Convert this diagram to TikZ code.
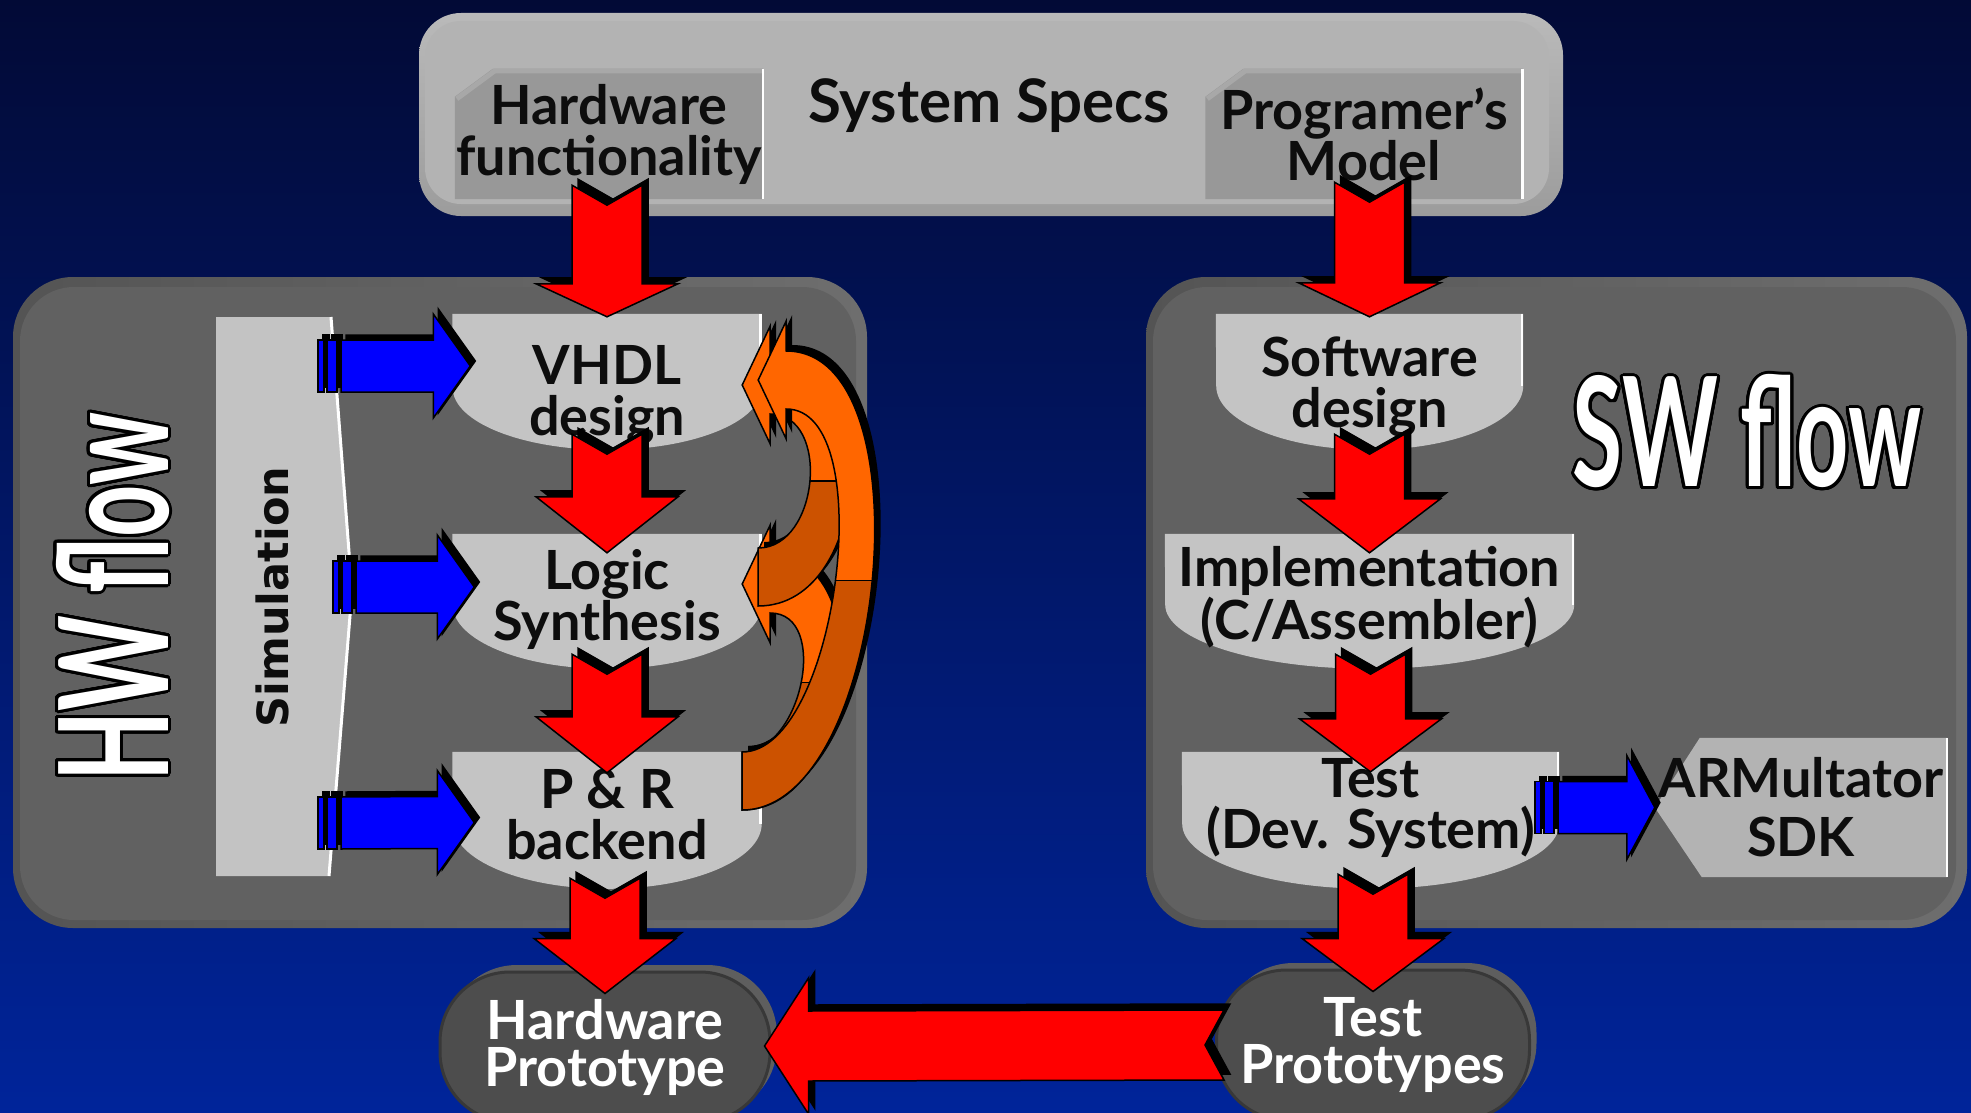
\documentclass[tikz,border=0pt]{standalone}
\usepackage{fontspec}
\setmainfont{Lato}
\newfontfamily\simfont{DejaVu Sans}
\usepackage[copies]{contour}
\contourlength{3pt}
\contournumber{32}
\usetikzlibrary{calc}

\definecolor{navytop}{HTML}{020A36}
\definecolor{navybottom}{HTML}{00249A}
\definecolor{specgray}{HTML}{B3B3B3}
\definecolor{specrim}{HTML}{9C9C9C}
\definecolor{tabgray}{HTML}{989898}
\definecolor{tabtop}{HTML}{A8A8A8}
\definecolor{panelgray}{HTML}{616161}
\definecolor{panelrim}{HTML}{545454}
\definecolor{panelside}{HTML}{6E6E6E}
\definecolor{simgray}{HTML}{C3C3C3}
\definecolor{stagegray}{HTML}{C4C4C4}
\definecolor{armgray}{HTML}{B3B3B3}
\definecolor{pillgray}{HTML}{4D4D4D}
\definecolor{pilledge}{HTML}{383838}
\definecolor{pillrim}{HTML}{5E5E5E}
\definecolor{inkblack}{HTML}{0D0D0D}
\definecolor{flowred}{HTML}{FF0000}
\definecolor{flowblue}{HTML}{0000FF}
\definecolor{loopor}{HTML}{FF6600}
\definecolor{loopdark}{HTML}{CC5200}

\pgfdeclarelayer{backdrop}
\pgfsetlayers{backdrop,main}

\tikzset{
  every node/.style={inner sep=0pt, align=center, text=inkblack,
    font=\bfseries\fontsize{54}{51}\selectfont},
  tab/.style={minimum height=130pt},
  stage/.style={},
  armbox/.style={minimum width=292pt, minimum height=139pt,
    font=\bfseries\fontsize{54}{59}\selectfont},
  pill/.style={rounded corners=70pt, minimum width=330pt, minimum height=150pt,
    fill=pillgray, draw=pilledge, line width=3pt, text=white,
    font=\bfseries\fontsize{54}{47}\selectfont,
    preaction={fill=pillrim, transform canvas={xshift=7pt,yshift=7pt}}},
  flowtitle/.style={text=white, font=\bfseries\fontsize{152}{152}\selectfont},
  simtext/.style={font=\simfont\bfseries\fontsize{43}{43}\selectfont, rotate=90},
  blockline/.style={draw=black, line width=1.5pt, line join=miter},
}

% box with a flat top and a round bottom: node, height, depth of the bottom, half width
\newcommand\bowl[4]{%
  \fill[stagegray] (#1.north west) -- (#1.north east) -- ++(0,#2-#3)
    arc[start angle=0,end angle=-180,x radius=#4pt,y radius=#3pt] -- cycle;
  \draw[white,line width=2.5pt] ($(#1.north east)+(-1,0)$) -- ++(0,#2-#3);
}

% grey tab with a cut corner
\newcommand\tabshape[1]{%
  \fill[tabgray] (#1.south west) -- ($(#1.north west)+(0,28)$) -- ($(#1.north west)+(38,0)$)
    -- (#1.north east) -- (#1.south east) -- cycle;
  \draw[tabtop,line width=5pt] ($(#1.north west)+(2,30)$) -- ($(#1.north west)+(40,2)$)
    -- ($(#1.north east)+(0,2)$);
  \draw[white,line width=2.5pt] (#1.north east) -- (#1.south east);
}

% fat red arrow going down: from, tail shift, to, tip shift, head length
\newcommand\redflow[5]{%
  \coordinate (rt) at ($(#3 |- #1)+(0,#2)$);
  \coordinate (rh) at ($(#3)+(0,#4)$);
  \foreach \ox/\oy/\col in {6/-6/black,0/0/flowred}{
    \filldraw[fill=\col,blockline]
      ($(rt)+(-35+\ox,\oy)$) -- ($(rt)+(\ox,20+\oy)$) -- ($(rt)+(35+\ox,\oy)$)
      -- ($(rh)+(35+\ox,-#5+\oy)$) -- ($(rh)+(71+\ox,-#5+\oy)$) -- ($(rh)+(\ox,\oy)$)
      -- ($(rh)+(-71+\ox,-#5+\oy)$) -- ($(rh)+(-35+\ox,-#5+\oy)$) -- cycle;
  }}

% striped blue arrow going right: tail, tip, head length
\newcommand\blueflow[3]{%
  \coordinate (bt) at #1;
  \coordinate (bh) at #2;
  \foreach \ox/\oy/\col in {5/-5/black,0/0/flowblue}{
    \filldraw[fill=\col,blockline] ($(bt)+(\ox,-26+\oy)$) rectangle ($(bt)+(6+\ox,26+\oy)$);
    \filldraw[fill=\col,blockline] ($(bt)+(9+\ox,-26+\oy)$) rectangle ($(bt)+(19+\ox,26+\oy)$);
    \filldraw[fill=\col,blockline] ($(bt)+(23+\ox,-26+\oy)$) -- ($(bh)+(-#3+\ox,-26+\oy)$)
      -- ($(bh)+(-#3+\ox,-52+\oy)$) -- ($(bh)+(\ox,\oy)$) -- ($(bh)+(-#3+\ox,52+\oy)$)
      -- ($(bh)+(-#3+\ox,26+\oy)$) -- ($(bt)+(23+\ox,26+\oy)$) -- cycle;
  }}

% outline of a bent feedback band: tail, tip, inner bulge, outer bulge
\newcommand\loopband[4]{($(#1)+(0,-29)$) .. controls ($(#1)+(#3,-29)$) and ($(#2)+(28+#3,29)$)
  .. ($(#2)+(28,29)$) -- ($(#2)+(28,59)$) -- (#2) -- ($(#2)+(28,-59)$) -- ($(#2)+(28,-29)$)
  .. controls ($(#2)+(28+#4,-29)$) and ($(#1)+(#4,29)$) .. ($(#1)+(0,29)$) -- cycle}

\newcommand\loopflow[4]{%
  \coordinate (ls) at #1;
  \coordinate (lt) at #2;
  \coordinate (lss) at ($(ls)+(6,-6)$);
  \coordinate (lts) at ($(lt)+(6,-6)$);
  \fill[black] \loopband{lss}{lts}{#3}{#4};
  \fill[loopor] \loopband{ls}{lt}{#3}{#4};
  \begin{scope}
    \clip \loopband{ls}{lt}{#3}{#4};
    \fill[loopdark] ($(ls)!0.5!(lt)+(-60,0)$) rectangle ($(ls)+(250,120)$);
    \draw[line width=1.5pt] ($(ls)!0.5!(lt)+(-60,0)$) -- ++(400,0);
  \end{scope}
  \draw[blockline] \loopband{ls}{lt}{#3}{#4};
}

\begin{document}
\begin{tikzpicture}[x=1pt,y=-1pt]
\useasboundingbox (0,0) rectangle (1971,1113);

\begin{pgfonlayer}{backdrop}
% backdrop
\shade[top color=navytop,bottom color=navybottom] (0,0) rectangle (1971,1113);
% specs bar
\shade[top color=specrim!70!white,bottom color=specrim,rounded corners=42pt] (419,13) rectangle (1563,216);
\fill[specgray,rounded corners=36pt] (425,21) rectangle (1549,204);
% flow panels
\foreach \xa/\xb in {13/867,1146/1967}{
  \shade[left color=panelrim,right color=panelside,rounded corners=60pt] (\xa,277) rectangle (\xb,928);
  \fill[panelgray,rounded corners=54pt] (\xa+7,287) rectangle (\xb-11,920);
}
% simulation column
\fill[simgray] (216,317) -- (331,317) -- (352,591) -- (329,876) -- (216,876) -- cycle;
\draw[white,line width=3pt] (331,317) -- (352,591) -- (329,876);
\end{pgfonlayer}

% specs
\node (specs) at (989,106) {\fontsize{60}{60}\selectfont System Specs};
\node[tab,minimum width=308pt] (hwfunc) at (609,134) {Hardware\\functionality};
\node[tab,minimum width=317pt] (progmodel) at (1364,134) {Programer’s\\Model};

% HW flow
\node[flowtitle,rotate=90] (hwtitle) at (114,597) {\contour{black}{\scalebox{0.6}[1]{HW flow}}};
\node[simtext] (sim) at (272,597) {Simulation};
\node[stage,minimum width=309pt,minimum height=162pt] (vhdl) at (607,395) {VHDL\\design};
\node[stage,minimum width=309pt,minimum height=130pt] (logic) at (607,599) {Logic\\Synthesis};
\node[stage,minimum width=309pt,minimum height=125pt] (pr) at (607,814.5) {P \& R\\backend};

% SW flow
\node[flowtitle] (swtitle) at (1747,433) {\contour{black}{\scalebox{0.6}[1]{SW flow}}};
\node[stage,minimum width=307pt,minimum height=146pt] (swdesign) at (1369.5,387) {Software\\design};
\node[stage,minimum width=409pt,minimum height=126pt] (impl) at (1369.5,597) {Implementation\\(C/Assembler)};
\node[stage,minimum width=377pt,minimum height=111pt] (test) at (1370.5,807.5) {Test\\(Dev. System)};
\node[armbox] (arm) at (1801,807.5) {ARMultator\\SDK};

% prototypes
\node[pill] (hwproto) at (605,1047) {Hardware\\Prototype};
\node[pill,minimum width=313pt] (testproto) at (1373,1045) {Test\\Prototypes};

\begin{pgfonlayer}{backdrop}
\tabshape{hwfunc}
\tabshape{progmodel}
\bowl{vhdl}{136}{62}{154.5}
\bowl{logic}{135}{64}{154.5}
\bowl{pr}{137}{65}{154.5}
\bowl{swdesign}{136}{64}{153.5}
\bowl{impl}{135}{64}{204.5}
\bowl{test}{137}{65}{188.5}
\fill[armgray] (arm.west) -- ($(arm.north west)+(45,0)$) -- (arm.north east)
  -- (arm.south east) -- ($(arm.south west)+(47,0)$) -- cycle;
\draw[white,line width=2.5pt] (arm.north east) -- (arm.south east);
\end{pgfonlayer}

% feedback loops
\loopflow{($(pr.east)+(-19.5,-33.5)$)}{($(logic.east)+(-19.5,-15)$)}{60}{112}
\loopflow{($(logic.east)+(-3.5,-22)$)}{($(vhdl.east)+(-19.5,-10)$)}{61}{115}
\loopflow{($(pr.east)+(-19.5,-33.5)$)}{($(vhdl.east)+(-3.5,-15)$)}{95}{144}

% simulation inputs
\blueflow{(318,366)}{($(vhdl.west)+(18,-29)$)}{37}
\blueflow{(333,587)}{($(logic.west)+(22,-12)$)}{37}
\blueflow{(318,823)}{($(pr.west)+(22,8)$)}{37}
\blueflow{(1535,807.5)}{(arm.west)}{28}

% down the flows
\redflow{hwfunc.south}{-14}{vhdl.north}{3}{33}
\redflow{vhdl.south}{-42}{logic.north}{19}{56}
\redflow{logic.south}{-10}{pr.north}{21}{56}
\redflow{pr.south}{1}{hwproto.north}{23}{55}
\redflow{progmodel.south}{-17}{swdesign.north}{3}{34}
\redflow{swdesign.south}{-26}{impl.north}{19}{54}
\redflow{impl.south}{-6}{test.north}{20}{53}
\redflow{test.south}{11}{testproto.north}{23}{53}

% test prototypes back to hardware
\coordinate (lt1) at ($(testproto.west)+(9,0)$);
\coordinate (lh1) at ($(hwproto.east |- testproto.west)+(-7,1)$);
\foreach \ox/\oy/\col in {6/-6/black,0/0/flowred}{
  \filldraw[fill=\col,blockline] ($(lt1)+(\ox,-35+\oy)$) -- ($(lt1)+(-19+\ox,\oy)$)
    -- ($(lt1)+(\ox,35+\oy)$) -- ($(lh1)+(44+\ox,35+\oy)$) -- ($(lh1)+(44+\ox,68+\oy)$)
    -- ($(lh1)+(\ox,\oy)$) -- ($(lh1)+(44+\ox,-68+\oy)$) -- ($(lh1)+(44+\ox,-35+\oy)$) -- cycle;
}
\end{tikzpicture}
\end{document}
